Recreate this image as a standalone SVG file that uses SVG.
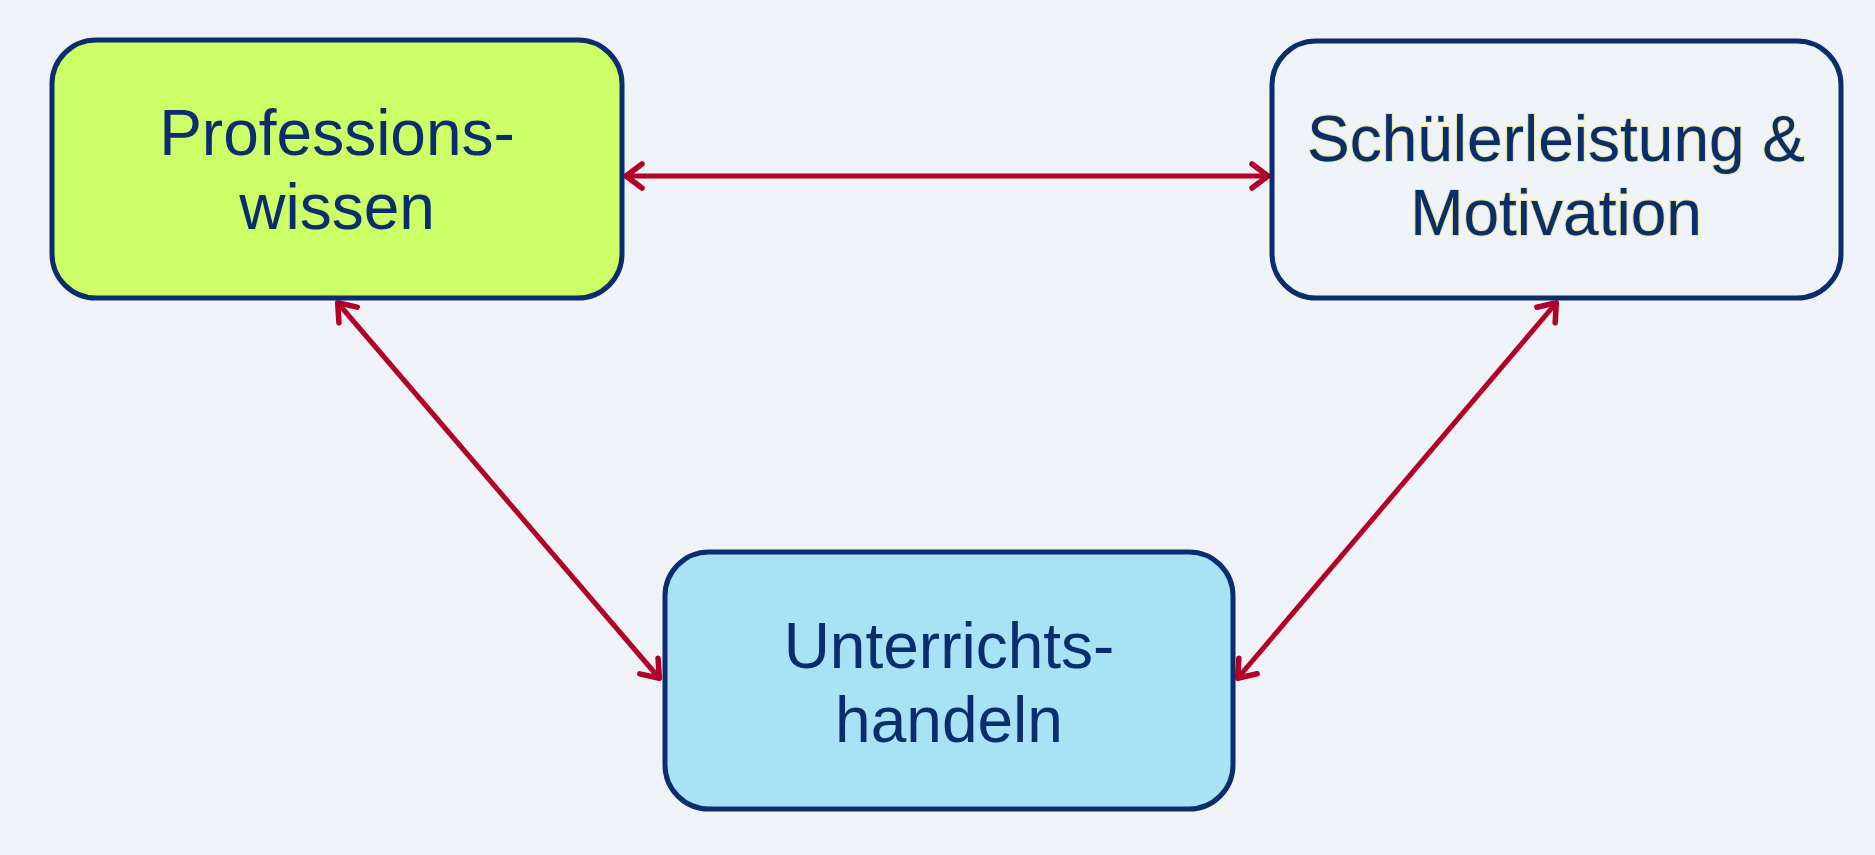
<svg xmlns="http://www.w3.org/2000/svg" width="1875" height="855" viewBox="0 0 1875 855">
  <style>
    .box { stroke: #0b2d6e; stroke-width: 5; }
    .lbl { font-family: "Liberation Sans", Arial, sans-serif; font-size: 64px; fill: #0b2d6e; text-anchor: middle; }
    .glow { stroke: #e4e27a; stroke-width: 2; stroke-opacity: 0.8; }
    .conn { stroke: #b3002a; stroke-width: 5; fill: none; marker-start: url(#arr); marker-end: url(#arr); }
  </style>
  <defs>
    <marker id="arr" viewBox="0 0 24 32" refX="21" refY="16" markerWidth="24" markerHeight="32" markerUnits="userSpaceOnUse" orient="auto-start-reverse">
      <path d="M4,4 L20,16 L4,28" fill="none" stroke="#b3002a" stroke-width="5.5" stroke-linecap="round" stroke-linejoin="round"/>
    </marker>
  </defs>
  <rect width="1875" height="855" fill="#eff3f7"/>
  <g id="connectors">
    <line class="conn" x1="625" y1="176" x2="1269" y2="176"/>
    <line class="conn" x1="337" y1="302" x2="660" y2="679"/>
    <line class="conn" x1="1557" y1="302" x2="1237" y2="679"/>
  </g>
  <g id="node-professionswissen">
    <rect class="box" x="52" y="40" width="570" height="258" rx="44" fill="#ccff66"/>
    <text class="lbl" x="337" y="155">Professions-</text>
    <text class="lbl" x="337" y="229">wissen</text>
  </g>
  <g id="node-schuelerleistung">
    <rect class="box" x="1272" y="41" width="569" height="257" rx="44" fill="#eff3f7"/>
    <text class="lbl glow" x="1556" y="161">Schülerleistung &amp;</text>
    <text class="lbl glow" x="1556" y="235">Motivation</text>
    <text class="lbl" x="1556" y="161">Schülerleistung &amp;</text>
    <text class="lbl" x="1556" y="235">Motivation</text>
  </g>
  <g id="node-unterrichtshandeln">
    <rect class="box" x="665" y="552" width="568" height="257" rx="44" fill="#a8e2f4"/>
    <text class="lbl" x="949" y="668">Unterrichts-</text>
    <text class="lbl" x="949" y="742">handeln</text>
  </g>
</svg>
